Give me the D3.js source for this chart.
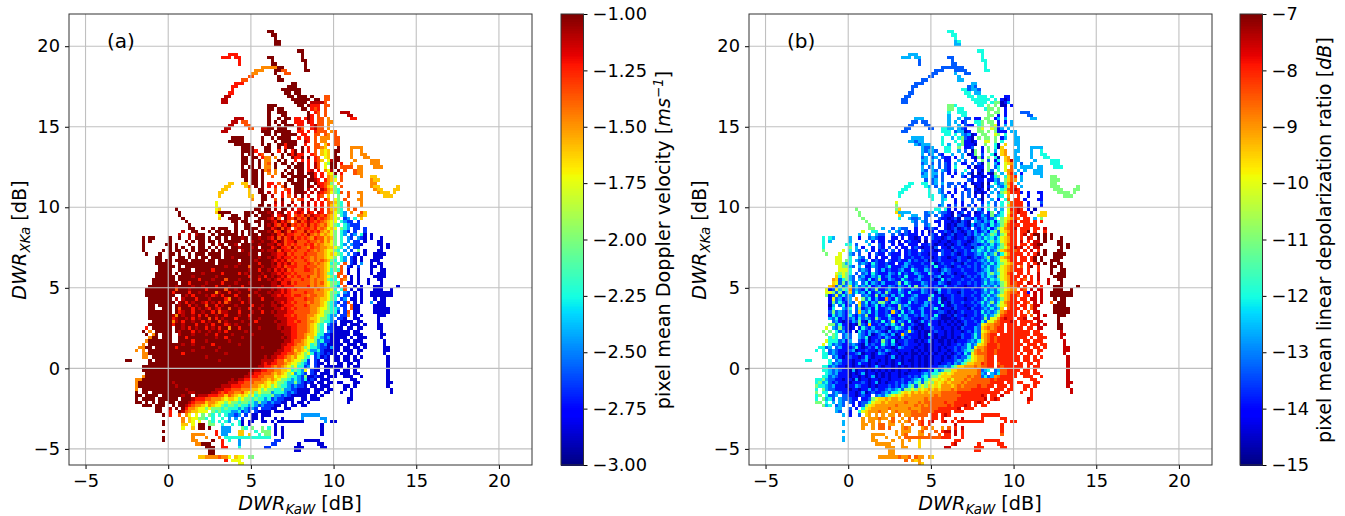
<!DOCTYPE html>
<html>
<head>
<meta charset="utf-8">
<script src="https://cdn.jsdelivr.net/npm/d3@7"></script>
<style>
  html, body { margin: 0; padding: 0; background: white; }
  text { font-family: "DejaVu Sans", sans-serif; fill: black; }
</style>
</head>
<body>
<div id="vis"></div>
<script>
// tick labels
const xTicks = [-5, 0, 5, 10, 15, 20]
const yTicks = [-5, 0, 5, 10, 15, 20]
const ticksA = [-3, -2.75, -2.5, -2.25, -2, -1.75, -1.5, -1.25, -1]
const ticksB = [-15, -14, -13, -12, -11, -10, -9, -8, -7]

// the value each character in the rows below stands for
const codes = "0123456789abc"
const levelsA = [-1, -1.1, -1.22, -1.35, -1.47, -1.6, -1.72, -2, -2.22, -2.45, -2.65, -2.85, -3]
const levelsB = [-7, -7.5, -8, -8.5, -9, -9.5, -10, -11, -12, -12.6, -13.3, -13.9, -14.6]

// pixels of the mesh: [row, "ten columns each, starting at column 10"]
// . is an empty pixel and _ an empty block of ten
const rowsA = [
[5,"_ _ _ _ _ 00"],[6,"_ _ _ _ _ .00"],[7,"_ _ _ _ _ ..0"],[8,"_ _ _ _ _ ..00"],[9,"_ _ _ _ _ ..00"],
[11,"_ _ _ _ _ .........0 0"],[12,"_ _ _ ........22 2 _ 0"],[13,"_ _ _ ......222. 22 00 0"],
[14,"_ _ _ _ .2 .0 00"],[15,"_ _ _ _ .2 .00 .0"],[16,"_ _ _ _ ........44 44400 .0"],
[17,"_ _ _ _ ......444. ..0033 .00"],[18,"_ _ _ _ .....44 ..0..33"],[19,"_ _ _ _ ....33 ...0"],
[20,"_ _ _ _ ..33 ...00"],[21,"_ _ _ _ 222 .......00"],[22,"_ _ _ .........2 2 ......000"],
[23,"_ _ _ .........2 _ ....000000"],[24,"_ _ _ ........22 _ .....00.00"],
[25,"_ _ _ .......11 _ ......00.0 00.0...33"],[26,"_ _ _ ......11 _ .......000 000.00.33"],
[27,"_ _ _ ......11 _ ........00 00.11113"],[28,"_ _ _ _ _ 000......0 0.0222.33"],
[29,"_ _ _ _ _ 00.00 00.232.3"],[30,"_ _ _ _ _ 0..000 ..0.23.3 ..111"],
[31,"_ _ _ _ _ 0...00 ..02.3.3 ....11"],[32,"_ _ _ _ 111 0..0.00.22 .202.33.4 .....22"],
[33,"_ _ _ .........1 1.33 0.0.00..22 2.12.33.44"],[34,"_ _ _ ........11 ...33 0..0.000.2 2..2133.4"],
[35,"_ _ _ .......11 ....33..11 00.000...1 3..2133.4"],[36,"_ _ _ ......11 ........00 0.00000..2 2.2.2333.4 3"],
[37,"_ _ _ _ .........0 0.0.00000. 22..33.34. 3"],[38,"_ _ _ .........0 000.....0. .0.0000..2 .22.3.444. 33"],
[39,"_ _ _ ........00 000.....0. ..0.00000. .12.3.44.. 33"],[40,"_ _ _ _ 00000...0. 0..002000. .2..33.53. 33"],
[41,"_ _ _ _ ..0000...0 0..0.200.. 0.2.3345.. .0...4444"],[42,"_ _ _ _ ..00002..0 0..2.0.20. 0.2.3.565. 00...4..4"],
[43,"_ _ _ _ ..0.00.23. .0..0.0202 2..23.565. 0....4..44"],[44,"_ _ _ _ ..00.00.24 4.4.0..022 0.0.23.65. 00...4...4 4"],
[45,"_ _ _ _ ..00.0.0.4 4..0.0..2. 2.2.235.61 00....4... .444"],[46,"_ _ _ _ ..00.0.0.4 3.0.00.0.0 0.2.13.670 0.2..4.... .444"],
[47,"_ _ _ _ ..0.00.0.4 4.0...0.00 0.2.13.6.0 0.3333.44. ..444"],[48,"_ _ _ _ ..00.00.04 3.4..0.0.0 0.21.2.461 .0.3..344"],
[49,"_ _ _ _ ..00.00.0. 4.4.0.00.0 0.002.2.56 0.2...344"],[50,"_ _ _ _ ..00.00.0. .3..00.000 00.02.2.45 7.3.....4 .55"],
[51,"_ _ _ _ ...0.00.0. ......00.0 0.0012.245 6.3 .455"],[52,"_ _ _ ........55 ..55.00.0. 22.3.0.000 0.0.022347 .4 .44"],
[53,"_ _ _ .......55 ...53.0.0. 2.2.30..00 0.01.12356 7.3 .455.....5"],[54,"_ _ _ ......55 ....5..00 ..3..32.00 0.1.1.1245 78 ..455...55"],
[55,"_ _ _ .....55 ....5..00 1.3.2.2.00 01.1.12346 783.3..44 ...4555.5"],[56,"_ _ _ .....5 ....55..00 .1..2.3.1. 0.2..23.5. .7..3...4 .....555"],
[57,"_ _ _ _ .....4..00 ..3.0..3.3 2..1.2.24. 67.3...44"],[58,"_ _ _ ....6 ........0. ..1.1..1.. 0.1.2.2.34 578.3...4"],
[59,"_ _ _ ....6 .......00. 0.2.1.0.2. 1.1.2.2.35 678.3...4"],[60,"_ _ ..0 ....65 ......00.0 0.1.00.1.2 1.2.1.2.35 578.4.3"],
[61,"_ _ ...0 ....50000 ...000.000 10.10.2.21 2.12.12.34 6789.4..35"],[62,"_ _ ...0 .....60..0 0..00.0.00 01.2102.32 3131223245 6.89...445"],
[63,"_ _ ....0 .....5..00 00.0...000 1203.02313 2302132345 67.a9.8.5"],[64,"_ _ .....0 .........0 0.00..00.0 0120213.31 3212323456 6.89aa.a"],
[65,"_ _ ......0 ........ 0..00..0.0 1023120323 2313234356 78.89aaa"],[66,"_ _ ......00 0..0.000 0..0000..0 0210312.32 3223243465 6.789.aa.a"],
[67,"_ _ ....1..00 ..0.00.00. 0.0.00.000 1032013123 3132324546 7.89a.a..a"],[68,"_ _ ...1..1.10 0..0.00000 0.0.000.00 0102312233 2313435456 7.89.a9.8b .b"],
[69,"_ ..0.00.... 0..0..1.00 0.0.00.0.0 0010.00100 1203132132 3234233545 7.8.9a.9ab .b..b"],
[70,"_ ..0.0..... 0....0.0.0 0.00.0.000 00.0.10010 0120132213 3323343546 7.8.9.aa.b ...bb"],
[71,"_ ..0......0 0.0...0..0 0..0.10.00 1.00000100 1102132323 3232434556 7.89.9aab. ...bb.b"],
[72,"_ ..0....... 0.0.0..0.0 0.0.0.00.0 0100010.00 0210223132 3342334455 678.9.aa.. ....b.b"],
[73,"_ ..0.....0. 0.00.0.0.0 00.0.0.000 0.10000010 1103122323 3323434566 78.9.a.7.b ...bb"],
[74,"_ ...0...0.. 00.0..0.00 0.0000.000 0000100.00 0112213233 3233344565 678.9.ab.b ..bbbb"],
[75,"_ ......00.. 0..00.0.0 00.000.001 0000000100 1012122323 2334344566 7.89.ab.b. ..bbb"],
[76,"_ ......00.0 0.0000.000 0.00.00000 0.00001000 0121213233 3234343457 8.89.ab.b. .bbb"],
[77,"_ ......0000 0..0000000 0000.00000 0100000200 0102121323 3323434568 78.3.ab.9. .b.bb"],
[78,"_ .......000 00.0.00000 0000000100 1000300010 0112132223 3233344567 7.3.ab.a.. .bb.b"],
[79,"_ .......000 0..0000.00 0002000000 0000100200 1021213233 3223434568 783.b..b.. .b..bb"],
[80,"_ ......0000 0.0.000000 1000002000 0201000010 0112122323 3333434578 .33.b..b.. .b.bbb"],
[81,"_ ......0000 00.0000100 0000100000 0000200102 0101213232 3324434567 83.3.b.b.. ..bbbb"],
[82,"_ .....00000 00.0000002 0001000300 0100000200 1012122333 2334344578 8.34.b.b.. b..bb"],
[83,"_ .....00000 000.002000 0100002000 1000100000 0110221323 3334343567 783.bb.b.. b...b"],
[84,"_ ....000000 0010000100 1000200010 0020000010 0112122233 3324344567 89.3..b.b. ..bbb....b"],
[85,"_ ...0000000 0030001000 0200000300 1000200100 0101212323 3333434556 8.83.b.bb. ..bbb..b"],
[86,"_ ...0000000 0200002001 0000410020 0100001000 1011212333 3233444567 78.9a.b.b. .bbbbbbb"],
[87,"_ ...0000000 00..010200 0102102000 2000300100 0112122322 3343344567 89.aa.b.b. .bbbbbbb"],
[88,"_ ....000000 0.1.100020 0010000240 0100100020 0011112233 3233445567 8.a9.bb.b. ..b.bb"],
[89,"_ ....000000 00.1020100 1201020310 0020100000 0101212323 3343445678 9a.a3.b.b. .9.bbb"],
[90,"_ ....00.000 0.01002010 0300201000 1000020010 0110122233 3234445678 9.aa.3bb.. ..bbbb"],
[91,"_ ....00..00 0.03000201 0120120030 0100200100 0011212323 3334456678 89.a.3bb.. ..bbbbb"],
[92,"_ ....000000 0.02100200 1002031100 0200010020 0101112233 3334456778 8a.a3.bb.. ..bbbbb"],
[93,"_ ....000000 0140100102 0200100200 0100200000 0011122323 3344566789 9.aa4.b.b. ...bbb"],
[94,"_ ....000000 0210010201 0030201000 2000100100 0001112223 3345567789 .aab..bb.. ...b"],
[95,"_ .....00000 0410200100 2010030100 0010002000 0010112232 3344567889 a.bbbb.bb. ...b"],
[96,"_ ....000000 0200100020 0102000210 1000100000 0001112223 3345678.9a b.bb.bbb.b ...bb"],
[97,"_ ...2.00000 0.00102010 0201020040 0200000100 0001011223 3345678.aa bbb.bb.bb. ...bb"],
[98,"_ ..0.4.0000 0.01000201 0010010200 0001000000 0000111223 3345678.9a bbbbb.bb.. ....b"],
[99,"_ ...0.40.00 0..1000100 0100200001 0000010000 0000011223 3455688aab bbbbb.bbb. ....bb"],
[100,"_ ....400.00 0..0020000 0000100200 0010000000 0000101223 3465789a9b bbbb.b.bbb ....b"],
[101,"_ ...4000000 0..0000200 0100000010 0000000000 0000011233 4566798aab bb.bb.bbb. .....b"],
[102,"_ ..4.000000 0000100100 0002000000 0100000000 0000112234 456879a9bb bbb.bbb.bb .....b"],
[103,"_ .4400.0000 0020000000 1000010000 0000000010 0000122344 576889aab9 bb.bb.bb.b .....bb"],
[104,"_ 4.4.000000 0000000100 0000100000 0000000000 0001122354 567998abbb bb.bbb.bb. .....bb"],
[105,"_ ..44000000 0000200000 0000000100 0000000000 0011223345 6768a9abab b.b.bb.b.. .....b"],
[106,"_ ..44.00000 0000000000 0100000000 0000000001 0112234546 678.a9bab. bb.bb.b.b. ......b"],
[107,".......00 ....0.0000 0000000000 0000010000 0000000011 1123354566 78a.ab.bb. bb.bb.bb.. ......b"],
[108,"_ ....000000 0000000000 0000000000 0000000012 1223345667 89a.abb.b. .bb.bb.b.. ......b"],
[109,"_ ..00000000 0000000000 0000000000 0000000112 2343456768 8a9.ab.bbb bbb.b.bb.. ......b"],
[110,"_ ..00000000 0000000000 0000000000 0000001122 3344556878 96.abb.bb. bb.bb.b... ......b"],
[111,"_ ...0000000 0000000000 0000000000 0000112233 3454567698 9a.ab.bbb. b.bbb.bb.. ......b"],
[112,"_ ..40000000 0000000000 0000000000 0001122334 4465667889 a7bbabb.bb b..bbb..b. ......b"],
[113,"_ 4400000000 0000000000 0000000001 0112233344 5456778989 a8bab.bbb. .....bb... ......b"],
[114,"_ 4000000000 0100000000 0000000011 1223334445 6567789979 abab.bb.bb .bb...bb.. ......bb"],
[115,"_ 4000000000 0010000000 0000001112 2233344565 6767889a9a ab.bb.bbb. ...bb.b... ......b"],
[116,"_ 4.00000000 0000010000 0000111223 3344455676 7788799aab bbb.bbb.bb ...b.b.... .......b"],
[117,"_ 0.00.00000 0000001100 0001123233 4435657677 798889a9ab bbb.bb.bb. ..b..b.... .......b"],
[118,"_ 00.0000.00 0000100.01 1122233534 5656768788 8799a9abbb bb.bb.b... .....b"],
[119,"_ 0.0000.000 000.000122 2334445655 6767787889 8a9aabbb.. bb.bbb.... ....bb"],
[120,"_ 00.0.0.00. 00.0001233 3544566767 7877889799 a9aabb.b.b b.b....... ....b"],
[121,"_ ..000.000. .0.0012344 5645667877 8788989a9a aabb.b.bb. bb"],
[122,"_ ......00.. 1.0.024456 6767778788 8989a9a.aa abb..bb.."],
[123,"_ ......00.. 2..0134556 66.7878889 98a9a.abbb b.bbb"],
[124,"_ ........0. 2..3.46.6. 7.78.8.899 a9.a.bb.bb b....... 999999"],
[125,"_ _ ....4.5667 78.8..8.9. 9.a..bb.b. ..b.b 9.....99"],
[126,"_ ........0. ....4.56.6 ..78.8.89. .8b.bb..bb .b.bbbbbbb b......9.b b"],
[127,"_ ........0. ....55.6.0 0.77..8..8 .8b.b..... ..b ......b"],
[128,"_ _ ....6..5.0 0.0...999. ..78.7..7. 8.b.b ......b"],
[129,"_ ........0. _ ....2.999. .55...8.77 7.b.b..... ......b"],
[130,"_ _ .......444 4...2.99.. .55.5..8.7 7.b.b ......b"],
[131,"_ ........0. .......4.. .4...3.888 8888888888 8...b"],
[132,"_ ........0. .......44. ...0..2.8. .9 ..aa .bbbbb"],
[133,"_ _ ........44 000...2 .9 .aa......b .....bb"],
[134,"_ _ _ .000..22 .8.......a a.......bb b.....bb"],
[135,"_ _ _ ..00 _ ........bb"],
[136,"_ _ _ ..00"],
[137,"_ _ .........5 544443446 566.77"],
[138,"_ _ _ .......2.6 66"],
[139,"_ _ _ _ .66"]
]

const rowsB = [
[5,"_ _ _ _ _ 88"],[6,"_ _ _ _ _ .88"],[7,"_ _ _ _ _ ..8"],[8,"_ _ _ _ _ ..98"],[9,"_ _ _ _ _ ..99"],
[11,"_ _ _ _ _ .........8 8"],[12,"_ _ _ ........99 9 _ 8"],[13,"_ _ _ ......999. 99 aa 8"],
[14,"_ _ _ _ .a .a 88"],[15,"_ _ _ _ .a .aa .8"],[16,"_ _ _ _ ........aa aaaaa .8"],
[17,"_ _ _ _ ......aaa. ..aaaa .88"],[18,"_ _ _ _ .....aa ..9..aa"],[19,"_ _ _ _ ....aa ...9"],
[20,"_ _ _ _ ..aa ...99"],[21,"_ _ _ _ aaa .......99"],[22,"_ _ _ .........a a ......a9a"],
[23,"_ _ _ .........a _ ....88a99a"],[24,"_ _ _ ........aa _ .....88.99"],
[25,"_ _ _ .......aa _ ......88.8 88.8...bb"],[26,"_ _ _ ......aa _ .......888 888.8.bcb"],
[27,"_ _ _ ......aa _ ........88 88.877cb9"],[28,"_ _ _ _ _ 778......8 8.7.7.cc.b"],
[29,"_ _ _ _ _ 77.88 .877.7.b"],[30,"_ _ _ _ _ 8..888 ..7.77.b ..aaa"],
[31,"_ _ _ _ _ 9...88 ..77.b.b ....aa"],[32,"_ _ _ _ 999 9..9.aa.bb .77.b9.9 .....99"],
[33,"_ _ _ .........a a.aa 9.9.ba..88 7.77.b.b.9"],[34,"_ _ _ ........aa ...aa 9..9.abb.8 7..76b.9.9"],
[35,"_ _ _ .......aa ....aa..88 99.9ab...7 6..67b9.9"],[36,"_ _ _ ......aa ........88 8.a99cb..7 7.7.7bbb.9 9"],
[37,"_ _ _ _ .........8 8.8.9a9cb. 77..67.8.. 9"],[38,"_ _ _ .........9 999.....8. .9.87abc.7 .77.7.b9.. 99"],
[39,"_ _ _ ........99 a99.....8. ..8.7bbcb. .66.7.8... 99"],[40,"_ _ _ _ 9a999...8. 9..87bbbc. .7..8c.5.. 99"],
[41,"_ _ _ _ ..9aa9...8 8..7.bba.. b.7.8c5... .9...9999"],[42,"_ _ _ _ ..9a99a..8 8..9.a.c7. b.7.9.54.. 99...9..8"],
[43,"_ _ _ _ ..9.a9.ab. .9..9.cb7. a..8c.54.. 9....9..88"],[44,"_ _ _ _ ..a9.a9.ab b.b.9..bc7 b.7.8c.54. 99...9...8 8"],
[45,"_ _ _ _ ..99.9.a.b b..9.a..b. 7.a.b8.541 99....9... .888"],[46,"_ _ _ _ ..a9.a.a.a b.9.bb.a.a c.7.9b.654 9.a..9.... .888"],
[47,"_ _ _ _ ..9.a9.a.a b.8...b.cb b.7.a8.6.3 9.9999.99. ..888"],[48,"_ _ _ _ ..9a.9a.9a b.a..8.b.b c.7a.8.643 .9.9..999"],
[49,"_ _ _ _ ..a9.99.a. b.b.9.ac.c b.bc7.9.42 9.b...999"],[50,"_ _ _ _ ..99.9a.a. .b..ab.cbb cb.b87.853 2.9.....9 .77"],
[51,"_ _ _ _ ...a.a9.a. ......ab.b b.bb9a.753 4.9 .777"],[52,"_ _ _ ........88 ..88.a9.9. aa.a.b.cbb c.c.8a9742 .9 .77"],
[53,"_ _ _ .......88 ...89.a.a. a.a.ba..cb c.b9.9a852 2.9 .777.....7"],[54,"_ _ _ ......88 ....8..9a ..b..ba.bc b.c.9.8732 12 ..777...77"],
[55,"_ _ _ .....88 ....8..9a b.b.a.a.cb cb.9.a7642 22b.b..bb ...7777.7"],[56,"_ _ _ .....8 ....88..9a .b..a.a.b. c.a..98.4. .2..b...b .....777"],
[57,"_ _ _ _ .....8..98 ..b.a..a.a c..9.b.83. 22.b...bb"],[58,"_ _ _ ....6 ........9. ..b.b..a.. b.9.a.8.73 222.b...a"],
[59,"_ _ _ ....7 .......a9. b.a.b.a.b. a.8.a.8.53 222.b...b"],[60,"_ _ ..7 ....75 ......88.8 b.b.bc.a.9 b.8.9.9.62 212.b.c"],
[61,"_ _ ...7 ....59999 ...a99.9aa bc.ba.b.cb a.b7.a8.63 2122.c..55"],[62,"_ _ ...7 .....59..9 9..aa.a.ab bc.acbb.bb 9ab7a98.52 2.22...655"],
[63,"_ _ ....7 .....8..9a a9.a...abb cbac.aab9b a9ba8.7654 23.22.9.7"],[64,"_ _ .....7 .........9 a.9a..bb.b bcbcabc.9a b9a8b87642 1.222.2.2"],
[65,"_ _ ......7 ........ a..a9..b.b cbcaabc9ba 9ab8a97532 22.2222"],[66,"_ _ ......77 9..a.9aa b..baab..b cbacbab.ab 9a8b976432 1.222.22.1"],
[67,"_ _ ....6..88 ..9.9a.ab. b.b.cb.bba bcabcbab9b a9b87a6542 2.220.2..2"],[68,"_ _ ...9..9.9a a..a.ababb b.b.bab.bc bacbbcab9a 8a978a7632 2.21.200.0 .0"],
[69,"_ ..8.89.... 9..b..a9ab b..bb.b.bb cb.b.abbcb abcbbabca9 a898a86542 2.2.12.0.0 .0..0"],
[70,"_ ..8.9..... 9....9.b.b b.ab.c.bab bc.c.bbcbb cbbabbcba9 8a87986542 2.1.2.11.0 ...00"],
[71,"_ ..8......8 8.a...9..a b..b.bb.bb b.bbabcbbc bcbabcbaab a9a8a97532 2.22.2100. ...00.0"],
[72,"_ ..8....... 7.9.b..b.a b.a.b.bb.b abcbbca.bb cabbabbca9 8a89a87642 121.2.11.. ....0.0"],
[73,"_ ..7.....6. 8.9a.9.b.b ab.a.b.bab b.abbbcbab bcabbab9a8 9a8a975432 32.2.1.2.0 ...00"],
[74,"_ ...7...6.. 9a.a..b.ab b.abbb.bab babbcbb.ab babcbabba9 a8a97a8642 222.2.20.0 ..0000"],
[75,"_ ......66.. 8..9a.b.b bb.bba.bba bbabbcbabb cbbabbcbab a97a985432 2.22.20.0. ..000"],
[76,"_ ......66.7 8.9ab9.bab b.abbabb9b abbacbbabb bbcabbabba 9a8a986642 2.22.20.0. .000"],
[77,"_ ......6679 8..a9ab8ab babb.bb9ab bbabb8cbab babbcabbab a9a8a87654 222.2.20.0 .0.00"],
[78,"_ .......677 9a.9.bb9ab ba8bbba9ba bbbabb8bba bcbabbabab 9a8a986543 2.3.20.2.. .00.0"],
[79,"_ .......666 8..a9ab.ab 9babba9bb8 abb9abbca9 abbbabbbab a98a976543 222.2..2.. .0..00"],
[80,"_ ......6767 8.a.a9b8ab bb9ab8babb 9abb8abb9b abcbbabbba 9a87986532 .22.2..1.. .0.000"],
[81,"_ ......5867 9a.a9bb9a8 ba9bbab8bb b9abbba9cb babbcbabab 9a89a76542 22.2.2.1.. ..0000"],
[82,"_ .....45a87 9a.9ab8ba7 bb9abb8abb a9bbbacb8b abbbabbabb a9a8986542 2.23.2.1.. 1..00"],
[83,"_ .....56a7a 8a9.a8b9ab 9bbba7b8ab bb9abbb9ab cbbabbabab a8a9a97642 322.12.2.. 1...0"],
[84,"_ ....54a7a9 6a8a9a8ba9 bb9ab9ab8b 7ba9bbabb9 bbabbcbbab 9a9a8a7643 32.2..1.2. ..000....0"],
[85,"_ ...6ba6978 4a9ab8ba7b ba9bb8abb9 ab9abba8bb abbbabbabb a8a9a87654 4.23.1.11. ..000..0"],
[86,"_ ...667a7b9 5a8a9b8ba9 b7abb9ab8b bb9abbc9bb abbcabbbab a9a8a97543 32.2b.1.1. .0000000"],
[87,"_ ...7ba6a8a 9a..a9ab7b 9ab9ba8bba 9bbba8bbcb babbabbabb 9a8a976542 23.22.1.1. .0000000"],
[88,"_ ....b6a9ba 9.4.7a8b9b b4ab8abba9 abbb7ab9cc babbbcbbab a8a9a97542 2.22.11.1. ..0.00"],
[89,"_ ....b7a8ab 9a.5a8b9a7 7ab89abb8b abb9abb8cb cabbabbaba 8a97a86432 22.23.1.1. .3.000"],
[90,"_ ....c9.a8b a.a6a9ba8b 9babb7a9ab bba9babb8b cbabbcbbab 9a8a976532 2.22.311.. ..0000"],
[91,"_ ....b8..9a 8.a7ba9b8b ba9ab7ab9b ba9bba8bcb bcabbbcabb a9a8a95.32 22.2.31... ..00000"],
[92,"_ ....a7a9ab 9.a59a8b9b bab5ab8ba9 bb9bbbbaab cbcbabbbab 8a9a974322 2.2.3.11.. ..00000"],
[93,"_ ....b8a9ab 8ab9a7bb9b ba8bb8a9bb ab9abb8bcc bcabbcbbab a8a9763222 2.22.3.1.1 ...000"],
[94,"_ ....9a8bab a9b8a9ab7a bb9abba9ab bcbab9abcc cbcbabbabb a7a6642122 .221..11.. ...0"],
[95,"_ .....a9bcb b9a7bc8bab 8ba6b9ab8b cb9babbcbc bcbcbabbab 8a66432221 2.2222.11. ...0"],
[96,"_ ....77a8bb cbc7ab5bba b9a8ab7bba bccb8bbcbb cbcbcabbba 6544332.22 2.22.221.1 ...00"],
[97,"_ ...6.9a7ab cb.b8ab9bb abca89ab9b cbcbbabbcb bcbcabbb9a 5434322.22 222.22.11. ...00"],
[98,"_ ..7.7.8a9b b.c8ab9a9a bc9babba6a bcbccbabbc bcbbcbab9a 6543322.22 22222.22.. ....1"],
[99,"_ ...7.78.a9 a..9ab9cba 9ab9cb5abb bcbc8bcbbc bcbbabba8a 54322.2222 22222.222. ....11"],
[100,"_ ....878.a9 a..9a8cbba b9abbc9bab bcbcbbcbcc bcbcabba8a 5432322222 2222.2.222 ....1"],
[101,"_ ...6888a9b 9..ab9cbab 7ab8cbbabb cbcb9cbccb cbcbbba9a8 6432322222 22.22.222. .....1"],
[102,"_ ..6.8a9abb a9abc9babb 8ab9bcbabb bcbcbcbbcb cbbaba8a96 5422232222 222.222.22 .....1"],
[103,"_ .88a9.a9bb ba8bcbab9b abbcb9abbb cbbcbcbcbc bbabaa8a64 4322232222 22.22.22.2 .....11"],
[104,"_ 8.8.a9abbb a9cbbabbca b9abcbbbbc bcbcbcbcbb cbaba98743 4322322222 22.222.22. .....11"],
[105,"_ ..88a9abbc bba9cbbcb9 abcbbcbcbc cbcbcbcbbc bcbab8a643 3322322222 2.2.22.2.. .....1"],
[106,"_ ..88.a9bcb abbcb9bcbb bcb9cbcbbc bcbcbcbbcb cbabaa8654 4322.22222 22.22.2.2. ......1"],
[107,".......88 ....8.a9bb bcbba9cbbc bcbcbbcbcc bcbcbcbbcb bba9a87654 4322.22222 22.22.22.. ......1"],
[108,"_ ....8a9abb bcb9bbcbcb bcbcb9cbbc bcbcbcbcbb ab9a875544 2322.32222 .22.22.2.. ......1"],
[109,"_ ..88a9abbc bcbbcbcb9b cbbcbcbcbc bcbcbbbaa9 a875544434 3322.23222 222.2.22.. ......1"],
[110,"_ ..889a9abb c9cbbcbcbc bcbcbcbbcb bcbbab8a97 7554444443 a98.a93322 22.22.2... ......1"],
[111,"_ ...89a9bbb cbcb9cbbcb cbcbbcbcbb bba9a88765 6544444443 9a.9a83322 2.222.22.. ......1"],
[112,"_ ..88a9abbb cbbcbcb9cb cbcbbcbbab ab98a77655 5444443433 a8a9432222 2..222..2. ......1"],
[113,"_ 8879aabbcb bc9cbbcbbc bbcbbbabba 98a8766565 4644434333 3332322222 .....22... ......1"],
[114,"_ 8798ababbb cbbbabcb9c bcbbabab9a 87a7675654 5444343333 3332222.22 .22...22.. ......11"],
[115,"_ 7889a9bbbc bb9abbcbcb bbabab9a87 a767565644 4543433332 3322.222.2 ...22.2... ......1"],
[116,"_ 8.79aabbbb cbbcbb9bab ba9a98a776 7565454544 4343333222 222.222.22 ...2.2.... .......1"],
[117,"_ 7.88.a9abb bbcb9cbabb a9a8876564 5454544433 3332222222 222222.22. ..2..2.... .......1"],
[118,"_ 87.8aa9.aa bbcbabb.a9 a876565454 4444443433 3333222222 12.22.1... .....2"],
[119,"_ 8.798a.9aa abb.bba765 5454454444 4443433333 3332222222 21.212.... ....12"],
[120,"_ 77.8.9.9a. ab.baa8655 4544444344 4343333332 3322222.21 2.2....... ....2"],
[121,"_ ..798.a9a. .b.ba76544 4444344444 3434333333 2322212.2. 22"],
[122,"_ ......99.. a.b.865444 4434444434 4433333222 2221.222.."],
[123,"_ ......9a.. b..8654443 44.4344443 3433332222 2.222"],
[124,"_ ........9. b..a.54.4. 4.44.3.443 3333.22.21 2....... 222222"],
[125,"_ _ ....4.4443 44.3..4.3. 3.3..22.2. ..2.1 2.....22"],
[126,"_ ........9. ....4.44.4 ..43.4.43. .32.21..21 .2.2222222 2......2.2 2"],
[127,"_ ........9. ....44.4.3 3.44..4..3 .32.2..... ..1 ......2"],
[128,"_ _ ....4..4.3 3.3...434. ..43.4..4. 3.2.1 ......2"],
[129,"_ ........9. _ ....4.444. .43...3.21 1.1.2..... ......2"],
[130,"_ _ .......444 4...4.43.. .44.3..3.2 2.1.2 ......3"],
[131,"_ ........9. .......4.. .4...4.333 3333333322 2...2"],
[132,"_ ........9. .......44. ...4..4.4. .5 ..22 .22222"],
[133,"_ _ ........44 444...4 .5 .21......2 .....22"],
[134,"_ _ _ .444..44 .5.......1 1.......22 2.....22"],
[135,"_ _ _ ..44 _ ........22"],
[136,"_ _ _ ..44"],
[137,"_ _ .........4 444443443 344.45"],
[138,"_ _ _ .......3.4 54"],
[139,"_ _ _ _ .45"]
]

// matplotlib jet
const jetR = d3.scaleLinear().domain([0, 0.35, 0.66, 0.89, 1]).range([0, 0, 1, 1, 0.5]).clamp(true)
const jetG = d3.scaleLinear().domain([0, 0.125, 0.375, 0.64, 0.91, 1]).range([0, 0, 1, 1, 0, 0]).clamp(true)
const jetB = d3.scaleLinear().domain([0, 0.11, 0.34, 0.65, 1]).range([0.5, 1, 1, 0, 0]).clamp(true)
function jet(t) {
  return d3.rgb(jetR(t) * 255, jetG(t) * 255, jetB(t) * 255).formatHex()
}

function decode(rows, levels) {
  var cells = []
  rows.forEach(function(row) {
    row[1].split(" ").forEach(function(block, i) {
      if (block == "_") return
      Array.from(block).forEach(function(ch, k) {
        if (ch != ".") cells.push({ col: 10 + 10 * i + k, row: row[0], v: levels[codes.indexOf(ch)] })
      })
    })
  })
  return cells
}

const binSize = 0.2
const fontSize = 17.8
const labelSize = 19.2
const plotTop = 14, plotBottom = 465

const svg = d3.select("#vis")
  .append("svg")
  .attr("width", 1345)
  .attr("height", 516)
  .style("display", "block")

// DWR label with a subscript, part of it in italics
function mathLabel(g, name, sub, extra) {
  g.append("tspan").attr("font-style", "italic").text(name)
  g.append("tspan").attr("font-style", "italic").attr("font-size", labelSize * 0.7).attr("dy", 4).text(sub)
  g.append("tspan").attr("dy", -4).text(extra)
}

function drawPanel(left, right, rows, levels, letter, cbLeft, cbDomain, cbTicks, cbFormat, cbLabel, cbLabelX, cbLabelY) {
  var x = d3.scaleLinear().domain([-6, 22]).range([left, right])
  var y = d3.scaleLinear().domain([-6, 22]).range([plotBottom, plotTop])
  var color = d3.scaleLinear().domain(cbDomain).range([0, 1])

  // mesh
  svg.append("g")
    .attr("shape-rendering", "crispEdges")
    .selectAll("rect")
    .data(decode(rows, levels))
    .enter()
    .append("rect")
      .attr("x", d => x(-6 + binSize * d.col))
      .attr("y", d => y(22 - binSize * d.row))
      .attr("width", x(binSize) - x(0))
      .attr("height", y(0) - y(binSize))
      .attr("fill", d => jet(color(d.v)))

  // grid goes over the mesh
  svg.append("g").selectAll("line").data(xTicks).enter().append("line")
    .attr("x1", d => x(d)).attr("x2", d => x(d))
    .attr("y1", plotTop).attr("y2", plotBottom)
    .attr("stroke", "#c0c0c0").attr("stroke-width", 1.1)
  svg.append("g").selectAll("line").data(yTicks).enter().append("line")
    .attr("x1", left).attr("x2", right)
    .attr("y1", d => y(d)).attr("y2", d => y(d))
    .attr("stroke", "#c0c0c0").attr("stroke-width", 1.1)

  var xAxis = svg.append("g")
    .attr("transform", "translate(0," + plotBottom + ")")
    .call(d3.axisBottom(x).tickValues(xTicks).tickSize(4).tickPadding(5))
  var yAxis = svg.append("g")
    .attr("transform", "translate(" + left + ",0)")
    .call(d3.axisLeft(y).tickValues(yTicks).tickSize(4).tickPadding(5))
  xAxis.selectAll("text").attr("font-size", fontSize).attr("font-family", "DejaVu Sans")
  yAxis.selectAll("text").attr("font-size", fontSize).attr("font-family", "DejaVu Sans")
  xAxis.select(".domain").remove()
  yAxis.select(".domain").remove()

  // frame
  svg.append("rect")
    .attr("x", left).attr("y", plotTop)
    .attr("width", right - left).attr("height", plotBottom - plotTop)
    .attr("fill", "none").attr("stroke", "#333").attr("stroke-width", 1)

  svg.append("text")
    .attr("x", left + 38).attr("y", 48)
    .attr("font-size", 20)
    .text(letter)

  var xl = svg.append("text")
    .attr("x", (left + right) / 2 - 0.5).attr("y", 510)
    .attr("text-anchor", "middle")
    .attr("font-size", labelSize)
  mathLabel(xl, "DWR", "KaW", " [dB]")

  var yl = svg.append("text")
    .attr("transform", "translate(" + (left - 43) + ",240) rotate(-90)")
    .attr("text-anchor", "middle")
    .attr("font-size", labelSize)
  mathLabel(yl, "DWR", "XKa", " [dB]")

  // colorbar
  var cbWidth = 22.5
  var cb = d3.scaleLinear().domain(cbDomain).range([plotBottom, plotTop])
  svg.append("g")
    .attr("shape-rendering", "crispEdges")
    .selectAll("rect")
    .data(d3.range(256))
    .enter()
    .append("rect")
      .attr("x", cbLeft)
      .attr("y", d => plotBottom - (d + 1) / 256 * (plotBottom - plotTop))
      .attr("width", cbWidth)
      .attr("height", (plotBottom - plotTop) / 256 + 1)
      .attr("fill", d => jet((d + 0.5) / 256))
  var cbAxis = svg.append("g")
    .attr("transform", "translate(" + (cbLeft + cbWidth) + ",0)")
    .call(d3.axisRight(cb).tickValues(cbTicks).tickFormat(d3.format(cbFormat)).tickSize(4).tickPadding(5))
  cbAxis.selectAll("text").attr("font-size", fontSize).attr("font-family", "DejaVu Sans")
  cbAxis.select(".domain").remove()
  svg.append("rect")
    .attr("x", cbLeft).attr("y", plotTop)
    .attr("width", cbWidth).attr("height", plotBottom - plotTop)
    .attr("fill", "none").attr("stroke", "#333").attr("stroke-width", 1)

  var cl = svg.append("text")
    .attr("transform", "translate(" + cbLabelX + "," + cbLabelY + ") rotate(-90)")
    .attr("text-anchor", "middle")
    .attr("font-size", labelSize)
  cbLabel(cl)
}

drawPanel(69, 532, rowsA, levelsA, "(a)", 561, [-3, -1], ticksA, ".2f", function(t) {
  t.append("tspan").text("pixel mean Doppler velocity [")
  t.append("tspan").attr("font-style", "italic").text("ms")
  t.append("tspan").attr("font-style", "italic").attr("font-size", labelSize * 0.7).attr("dy", -7).text("−1")
  t.append("tspan").attr("dy", 7).text("]")
}, 670, 240)

drawPanel(749, 1212, rowsB, levelsB, "(b)", 1240, [-15, -7], ticksB, "d", function(t) {
  t.append("tspan").text("pixel mean linear depolarization ratio [")
  t.append("tspan").attr("font-style", "italic").text("dB")
  t.append("tspan").text("]")
}, 1331, 240)
</script>
</body>
</html>
